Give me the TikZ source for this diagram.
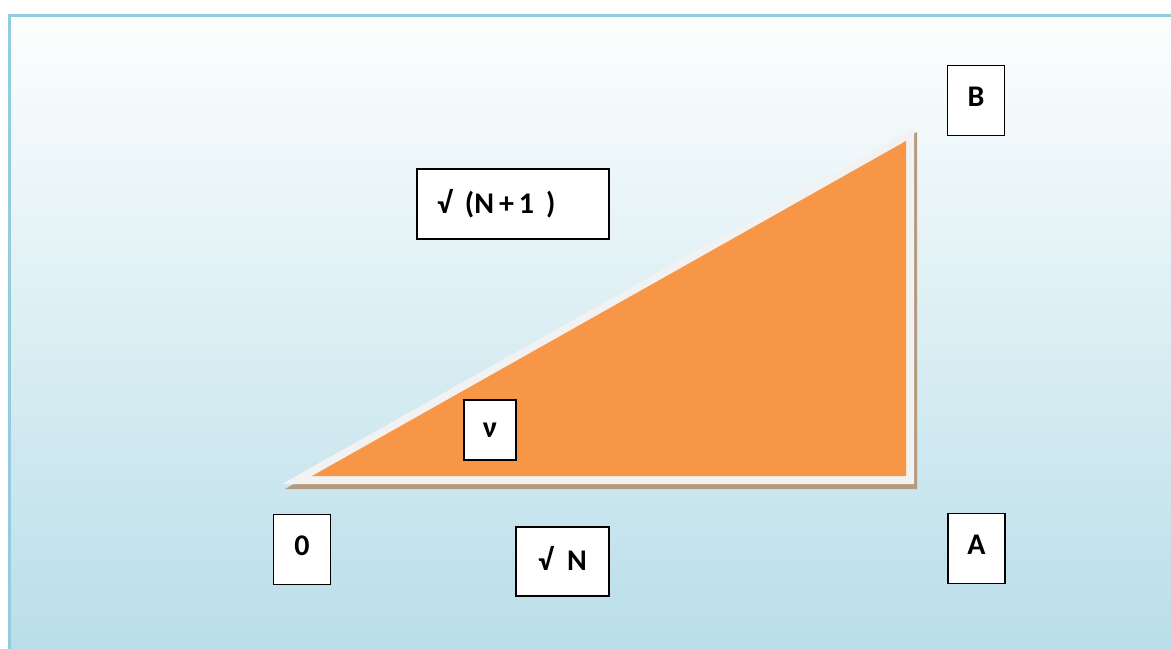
\documentclass[tikz,border=0pt]{standalone}
\usepackage{fontspec}
\setmainfont{Carlito}
\usepackage{tikz}
\definecolor{frameblue}{RGB}{147,205,221}
\definecolor{skytop}{RGB}{253,254,254}
\definecolor{skymid}{RGB}{228,242,246}
\definecolor{skybottom}{RGB}{183,221,232}
\definecolor{wedge}{RGB}{247,150,70}
\definecolor{rim}{RGB}{242,242,242}
\definecolor{shadow}{RGB}{180,155,128}

\begin{document}
\begin{tikzpicture}[x=0.5pt, y=-0.5pt,
    box/.style={draw, line width=0.75pt, fill=white, inner sep=0pt,
                font=\bfseries\fontsize{15}{17}\selectfont},
    letter/.style={box, minimum width=28.5pt, minimum height=35pt, text depth=4pt}
  ]
    \useasboundingbox (0,0) rectangle (1171,648);
    % background panel
    \fill[top color=skytop, middle color=skymid, bottom color=skybottom] (9,15) rectangle (1190,670);
    \draw[frameblue, line width=1.5pt] (9.5,15.5) rectangle (1190,670);

    % triangle with rim and shadow
    \fill[shadow] (285,489) -- (917,489) -- (917,132) -- cycle;
    \fill[rim] (282,484) -- (914,484) -- (914,128) -- cycle;
    \fill[wedge] (312,476) -- (906,476) -- (906,141) -- cycle;

    \node[letter] (b)    at (976,100.5) {B};
    \node[letter] (a)    at (976.5,548.5) {A};
    \node[letter] (o)    at (302,549.5) {0};
    \node[box, minimum width=26pt, minimum height=30pt] (nu) at (490,430) {ν};
    \node[box, minimum width=46.5pt, minimum height=34.5pt, text depth=3pt] (rootn) at (562.5,561.5) {√\hspace{7pt}N};
    \node[box, minimum width=96pt, minimum height=35pt, text width=76pt,
          inner xsep=10pt, align=left] (rootn1) at (513,204)
          {√\hspace{6.5pt}(N\hspace{2.5pt}+\hspace{2.5pt}1\hspace{6pt})};
\end{tikzpicture}
\end{document}
